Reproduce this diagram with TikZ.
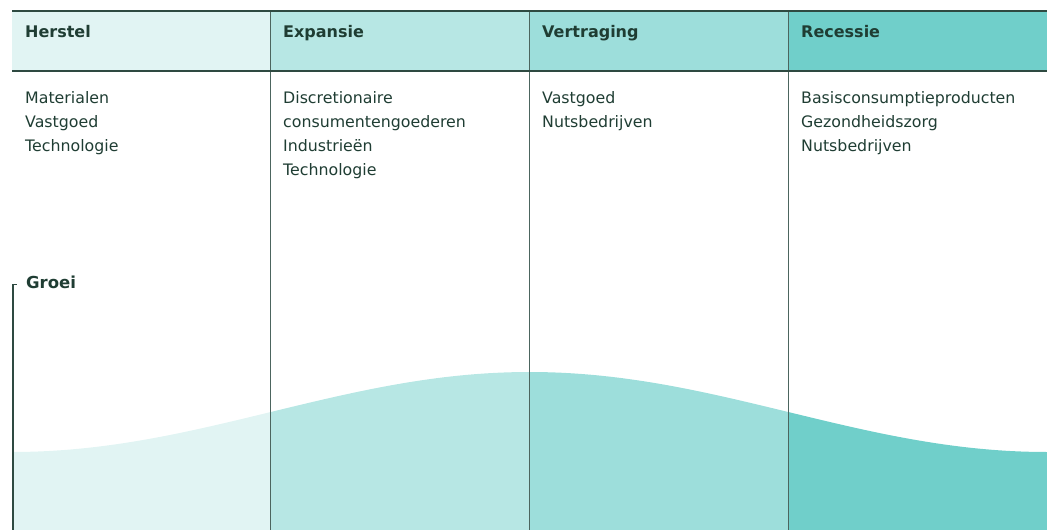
\documentclass[tikz,border=0pt]{standalone}
\usepackage{fontspec}
\setmainfont{DejaVu Sans}
\begin{document}
\definecolor{ink}{HTML}{1F3D33}
\definecolor{rule}{HTML}{2E4A41}
\definecolor{divider}{HTML}{4C655E}
\definecolor{phaseA}{HTML}{E1F4F3}
\definecolor{phaseB}{HTML}{B7E7E4}
\definecolor{phaseC}{HTML}{9DDEDB}
\definecolor{phaseD}{HTML}{70CFCA}
\begin{tikzpicture}[x=1pt,y=-1pt,
  headtext/.style={anchor=base west,inner sep=0pt,text=ink,font=\bfseries\fontsize{16}{19}\selectfont},
  bodytext/.style={anchor=base west,inner sep=0pt,text=ink,align=left,font=\fontsize{15.8}{24}\selectfont},
  divline/.style={draw=divider,line width=1pt},
  thickrule/.style={draw=rule,line width=2pt}]
\useasboundingbox (0,0) rectangle (1051,530);

% header band, one cell per phase
\fill[phaseA] (12,11) rectangle (270,71);
\fill[phaseB] (270,11) rectangle (529,71);
\fill[phaseC] (529,11) rectangle (788,71);
\fill[phaseD] (788,11) rectangle (1047,71);

% growth curve, coloured per phase (cosine wave peaking mid-chart)
\begin{scope}
  \clip (13,530) -- plot[domain=13:1047,samples=150] (\x,{412-40*cos(0.347826*(\x-529.5))}) -- (1047,530) -- cycle;
  \fill[phaseA] (12,300) rectangle (270,530);
  \fill[phaseB] (270,300) rectangle (529,530);
  \fill[phaseC] (529,300) rectangle (788,530);
  \fill[phaseD] (788,300) rectangle (1047,530);
\end{scope}

% column dividers
\coordinate (t1) at (270,11); \coordinate (b1) at (270,530);
\coordinate (t2) at (529,11); \coordinate (b2) at (529,530);
\coordinate (t3) at (788,11); \coordinate (b3) at (788,530);
\draw[divline] (t1) -- (b1);
\draw[divline] (t2) -- (b2);
\draw[divline] (t3) -- (b3);

% horizontal rules of the header
\coordinate (topL) at (12,11); \coordinate (topR) at (1047,11);
\coordinate (midL) at (12,71); \coordinate (midR) at (1047,71);
\draw[thickrule] (topL) -- (topR);
\draw[thickrule] (midL) -- (midR);

% header labels
\node[headtext] (h1) at (25,37) {Herstel};
\node[headtext] (h2) at (283,37) {Expansie};
\node[headtext] (h3) at (542,37) {Vertraging};
\node[headtext] (h4) at (801,37) {Recessie};

% sectors per phase (anchored at the baseline of the last line; first line at 103)
\node[bodytext] (s1) at (25,151) {Materialen\\Vastgoed\\Technologie};
\node[bodytext] (s2) at (283,175) {Discretionaire\\consumentengoederen\\Industrieën\\Technologie};
\node[bodytext] (s3) at (542,127) {Vastgoed\\Nutsbedrijven};
\node[bodytext] (s4) at (801,151) {Basisconsumptieproducten\\Gezondheidszorg\\Nutsbedrijven};

% growth axis
\coordinate (axtick) at (16.5,284.5);
\coordinate (axtop) at (13,284.5);
\coordinate (axbot) at (13,530);
\draw[draw=rule,line width=1.4pt] (axtick) -- (axtop) -- (axbot);
\node[headtext,font=\bfseries\fontsize{16.5}{19}\selectfont] (groei) at (26,288) {Groei};
\end{tikzpicture}
\end{document}
